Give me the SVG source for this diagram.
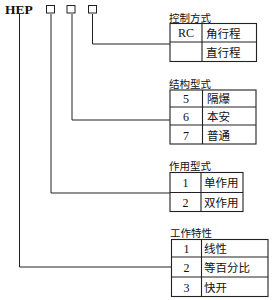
<svg xmlns="http://www.w3.org/2000/svg" width="272" height="300" viewBox="0 0 272 300">
<style>
.ln{fill:none;stroke:#222;stroke-width:1}
.tb{fill:none;stroke:#222;stroke-width:1.1}
.t{font-family:"Noto Sans CJK SC","Noto Sans",sans-serif;font-size:11.5px;fill:#111}
.h{font-family:"Noto Sans CJK SC","Noto Sans",sans-serif;font-size:10.5px;fill:#111}
.n{font-family:"Liberation Serif",serif;font-size:12px;fill:#111;text-anchor:middle}
</style>
<rect width="272" height="300" fill="#fff"/>
<g id="code">
<text x="5" y="13.5" font-family="Liberation Serif,serif" font-weight="bold" font-size="13.5" fill="#111">HEP</text>
<rect x="46.5" y="5.5" width="8" height="7.5" class="ln"/>
<rect x="67" y="5.5" width="8" height="7.5" class="ln"/>
<rect x="88.5" y="5.5" width="8" height="7.5" class="ln"/>
</g>
<g id="connectors">
<polyline class="ln" points="92.5,14 92.5,44 170,44"/>
<polyline class="ln" points="72,14 72,120 170,120"/>
<polyline class="ln" points="51,14 51,193 170,193"/>
<polyline class="ln" points="19.5,14 19.5,267 171.5,267"/>
</g>
<g id="control">
<text x="169" y="21.5" class="h">控制方式</text>
<rect x="170" y="23.5" width="86.5" height="38" class="tb"/>
<line x1="170" y1="42" x2="256.5" y2="42" class="tb"/>
<line x1="202" y1="23.5" x2="202" y2="61.5" class="tb"/>
<text x="186" y="37" class="n">RC</text>
<text x="206" y="37.5" class="t">角行程</text>
<text x="206" y="57" class="t">直行程</text>
</g>
<g id="structure">
<text x="169" y="87.5" class="h">结构型式</text>
<rect x="170" y="90" width="86" height="54" class="tb"/>
<line x1="170" y1="107" x2="256" y2="107" class="tb"/>
<line x1="170" y1="125" x2="256" y2="125" class="tb"/>
<line x1="202.5" y1="90" x2="202.5" y2="144" class="tb"/>
<text x="186" y="103" class="n">5</text>
<text x="186" y="121" class="n">6</text>
<text x="186" y="140" class="n">7</text>
<text x="207" y="103" class="t">隔爆</text>
<text x="207" y="121" class="t">本安</text>
<text x="207" y="140" class="t">普通</text>
</g>
<g id="action">
<text x="169" y="169.5" class="h">作用型式</text>
<rect x="170" y="172.5" width="73" height="39" class="tb"/>
<line x1="170" y1="192.5" x2="243" y2="192.5" class="tb"/>
<line x1="201" y1="172.5" x2="201" y2="211.5" class="tb"/>
<text x="185.5" y="187" class="n">1</text>
<text x="185.5" y="207" class="n">2</text>
<text x="204" y="187" class="t">单作用</text>
<text x="204" y="207" class="t">双作用</text>
</g>
<g id="characteristic">
<text x="170" y="236.5" class="h">工作特性</text>
<rect x="171.5" y="239.5" width="96.5" height="57" class="tb"/>
<line x1="171.5" y1="257" x2="268" y2="257" class="tb"/>
<line x1="171.5" y1="277" x2="268" y2="277" class="tb"/>
<line x1="201.5" y1="239.5" x2="201.5" y2="296.5" class="tb"/>
<text x="186.5" y="253" class="n">1</text>
<text x="186.5" y="272" class="n">2</text>
<text x="186.5" y="292" class="n">3</text>
<text x="204" y="253" class="t">线性</text>
<text x="204" y="272" class="t">等百分比</text>
<text x="204" y="292" class="t">快开</text>
</g>
</svg>
